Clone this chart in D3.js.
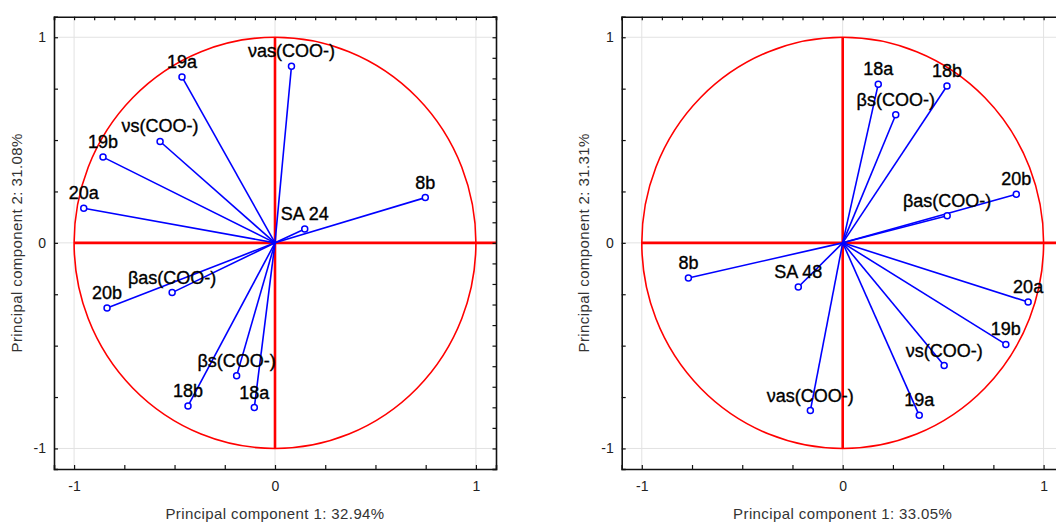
<!DOCTYPE html>
<html>
<head>
<meta charset="utf-8">
<script src="https://cdn.jsdelivr.net/npm/d3@7"></script>
<style>
body { margin: 0; background: #fff; }
svg { display: block; font-family: "Liberation Sans", Arial, sans-serif; }
</style>
</head>
<body>
<script>
// loadings
var labelsA = ["νas(COO-)", "19a", "νs(COO-)", "19b", "20a", "8b", "SA 24", "βas(COO-)", "20b", "βs(COO-)", "18b", "18a"];
var pc1A = [0.082, -0.463, -0.572, -0.856, -0.952, 0.748, 0.148, -0.512, -0.836, -0.191, -0.433, -0.103];
var pc2A = [0.859, 0.807, 0.493, 0.417, 0.168, 0.220, 0.067, -0.242, -0.317, -0.647, -0.793, -0.801];

var labelsB = ["18a", "18b", "βs(COO-)", "20b", "βas(COO-)", "8b", "SA 48", "20a", "19b", "νs(COO-)", "19a", "νas(COO-)"];
var pc1B = [0.177, 0.519, 0.264, 0.864, 0.520, -0.768, -0.221, 0.923, 0.812, 0.505, 0.381, -0.161];
var pc2B = [0.772, 0.763, 0.623, 0.236, 0.132, -0.171, -0.215, -0.288, -0.494, -0.597, -0.839, -0.816];

var xTitles = ["Principal component 1: 32.94%", "Principal component 1: 33.05%"];
var yTitles = ["Principal component 2: 31.08%", "Principal component 2: 31.31%"];
var tickLabels = [-1, 0, 1];

var W = 1056, H = 522;
var svg = d3.select("body").append("svg")
	.attr("width", W)
	.attr("height", H);

function panel(left, labels, xs, ys, xTitle, yTitle) {
	var x = d3.scaleLinear().domain([-1.1, 1.1]).range([left, left + 442]);
	var y = d3.scaleLinear().domain([-1.1, 1.1]).range([469, 16.7]);
	var g = svg.append("g");

	// light grid at -1, 0, 1
	g.selectAll(".gx").data(tickLabels).enter().append("line")
		.attr("x1", d => x(d)).attr("x2", d => x(d))
		.attr("y1", y(1.1)).attr("y2", y(-1.1))
		.style("stroke", "#e2e2e2");
	g.selectAll(".gy").data(tickLabels).enter().append("line")
		.attr("y1", d => y(d)).attr("y2", d => y(d))
		.attr("x1", x(-1.1)).attr("x2", x(1.1))
		.style("stroke", "#e2e2e2");

	// unit circle and red axes
	g.append("ellipse")
		.attr("cx", x(0)).attr("cy", y(0))
		.attr("rx", x(1) - x(0)).attr("ry", y(0) - y(1))
		.style("fill", "none").style("stroke", "#ff0000").style("stroke-width", 1.6);
	g.append("line")
		.attr("x1", x(-1)).attr("x2", x(1.1))
		.attr("y1", y(0)).attr("y2", y(0))
		.style("stroke", "#ff0000").style("stroke-width", 2.6);
	g.append("line")
		.attr("x1", x(0)).attr("x2", x(0))
		.attr("y1", y(1)).attr("y2", y(-1))
		.style("stroke", "#ff0000").style("stroke-width", 2.6);

	var idx = d3.range(labels.length);
	g.selectAll(".vec").data(idx).enter().append("line")
		.attr("x1", x(0)).attr("y1", y(0))
		.attr("x2", i => x(xs[i])).attr("y2", i => y(ys[i]))
		.style("stroke", "#0000ff").style("stroke-width", 1.6);
	g.selectAll(".tip").data(idx).enter().append("circle")
		.attr("cx", i => x(xs[i])).attr("cy", i => y(ys[i]))
		.attr("r", 3)
		.style("fill", "#fff").style("stroke", "#0000ff").style("stroke-width", 1.5);
	g.selectAll(".lbl").data(idx).enter().append("text")
		.attr("x", i => x(xs[i])).attr("y", i => y(ys[i]) - 9)
		.attr("text-anchor", "middle")
		.attr("font-size", "18px")
		.style("fill", "#000")
		.style("stroke", "#000").style("stroke-width", 0.35)
		.text(i => labels[i]);

	// axes, ticks pointing inward
	var fmt = d => (tickLabels.indexOf(d) >= 0 ? (d < 0 ? "-" + Math.abs(d) : d) : "");
	var q = d3.range(-4, 5).map(k => k / 4);
	var t = d3.range(-11, 12).map(k => k / 10);
	g.append("g").attr("transform", "translate(" + x(-1.1) + ",0)")
		.call(d3.axisLeft(y).tickValues(q).tickSize(-4).tickPadding(8).tickFormat(fmt));
	g.append("g").attr("transform", "translate(0," + y(-1.1) + ")")
		.call(d3.axisBottom(x).tickValues(q).tickSize(-4).tickPadding(12).tickFormat(fmt));
	g.append("g").attr("transform", "translate(0," + y(1.1) + ")")
		.call(d3.axisTop(x).tickValues(t).tickSize(-3.5).tickFormat(""));
	g.append("g").attr("transform", "translate(" + x(1.1) + ",0)")
		.call(d3.axisRight(y).tickValues(t).tickSize(-3.5).tickFormat(""));
	g.selectAll(".domain").style("stroke", "#111").style("stroke-width", 1.6);
	g.selectAll(".tick line").style("stroke", "#111").style("stroke-width", 1.2);
	g.selectAll(".tick text").attr("font-size", "14px").attr("font-family", "Liberation Sans, Arial, sans-serif").style("fill", "#222");

	g.append("text")
		.attr("x", x(0)).attr("y", 519)
		.attr("text-anchor", "middle")
		.attr("font-size", "15px")
		.style("letter-spacing", "0.4px")
		.style("fill", "#333")
		.text(xTitle);
	g.append("text")
		.attr("transform", "translate(" + (left - 32.5) + "," + y(0) + ") rotate(-90)")
		.attr("text-anchor", "middle")
		.attr("font-size", "15px")
		.style("letter-spacing", "0.4px")
		.style("fill", "#333")
		.text(yTitle);
}

panel(54, labelsA, pc1A, pc2A, xTitles[0], yTitles[0]);
panel(621.7, labelsB, pc1B, pc2B, xTitles[1], yTitles[1]);
</script>
</body>
</html>
